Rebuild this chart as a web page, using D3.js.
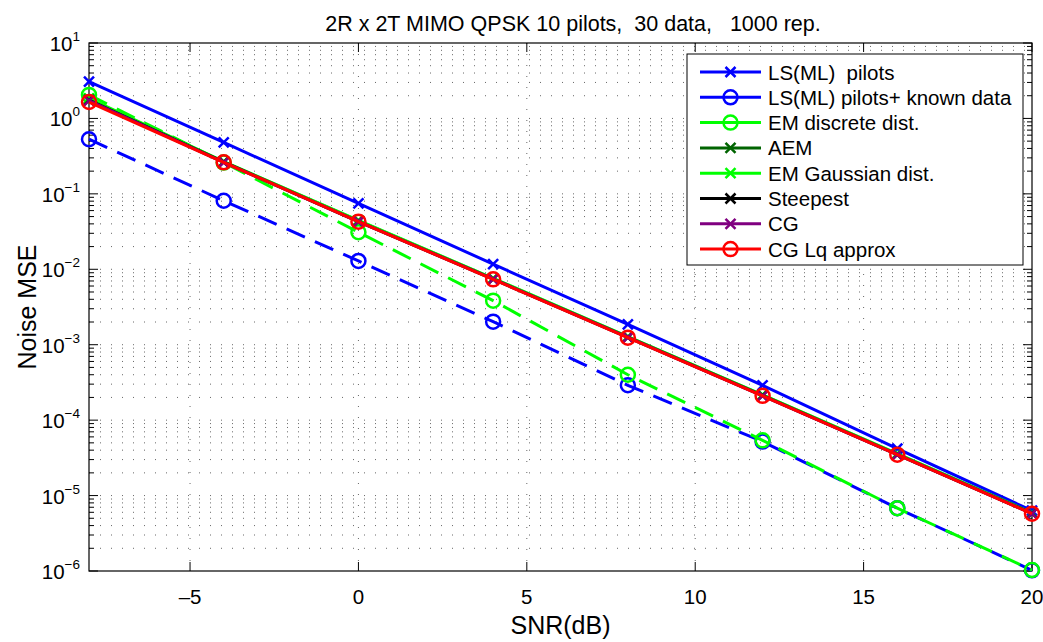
<!DOCTYPE html>
<html>
<head>
<meta charset="utf-8">
<script src="https://cdn.jsdelivr.net/npm/d3@7"></script>
<style>
  body { margin: 0; background: #fff; }
  text { font-family: "Liberation Sans", Arial, sans-serif; fill: #000; }
</style>
</head>
<body>
<svg id="chart" width="1043" height="642"></svg>
<script>
// SNR points
var snr = [-8, -4, 0, 4, 8, 12, 16, 20];

// noise MSE per method
var lsPilots   = [3.07, 0.48, 0.075, 0.0117, 0.00186, 2.9e-4, 4.2e-5, 6.3e-6];
var lsKnown    = [0.53, 0.081, 0.0129, 0.00202, 2.9e-4, 5.2e-5, 6.8e-6, 1.02e-6];
var emDiscrete = [2.05, 0.26, 0.031, 0.00384, 4.0e-4, 5.4e-5, 6.8e-6, 1.03e-6];
var aem        = [1.8, 0.265, 0.044, 0.0075, 0.00127, 2.15e-4, 3.55e-5, 5.85e-6];
var emGauss    = [1.85, 0.268, 0.0445, 0.0076, 0.00128, 2.17e-4, 3.6e-5, 5.9e-6];
var steepest   = [1.75, 0.263, 0.043, 0.0074, 0.00125, 2.12e-4, 3.5e-5, 5.8e-6];
var cg         = [1.72, 0.262, 0.043, 0.0074, 0.00125, 2.1e-4, 3.5e-5, 5.78e-6];
var cgLq       = [1.65, 0.262, 0.0428, 0.00736, 0.00124, 2.1e-4, 3.48e-5, 5.75e-6];

var xTicks = [-5, 0, 5, 10, 15, 20];
var yExps = [-6, -5, -4, -3, -2, -1, 0, 1];

var series = [
  {name: "LS(ML)  pilots", vals: lsPilots, color: "#0000ff", marker: "x", dash: null},
  {name: "LS(ML) pilots+ known data", vals: lsKnown, color: "#0000ff", marker: "o", dash: "20,11"},
  {name: "EM discrete dist.", vals: emDiscrete, color: "#00ff00", marker: "o", dash: "20,11"},
  {name: "AEM", vals: aem, color: "#006400", marker: "x", dash: null},
  {name: "EM Gaussian dist.", vals: emGauss, color: "#00ff00", marker: "x", dash: null},
  {name: "Steepest", vals: steepest, color: "#000000", marker: "x", dash: null},
  {name: "CG", vals: cg, color: "#800080", marker: "x", dash: null},
  {name: "CG Lq approx", vals: cgLq, color: "#ff0000", marker: "o", dash: null}
];

var m = {top: 43, right: 11, bottom: 71, left: 89},
    W = 1043, H = 642,
    pw = W - m.left - m.right,
    ph = H - m.top - m.bottom;

var svg = d3.select("#chart");
var g = svg.append("g").attr("transform", "translate(" + m.left + "," + m.top + ")");

var x = d3.scaleLinear().domain([-8, 20]).range([0, pw]);
var y = d3.scaleLog().domain([1e-6, 10]).range([ph, 0]);

// grid
var minorVals = [];
for (var e = -6; e < 1; e++) {
  for (var k = 2; k <= 9; k++) minorVals.push(k * Math.pow(10, e));
}
var majorVals = yExps.map(function(p) { return Math.pow(10, p); });

g.selectAll(".hgrid").data(minorVals.concat(majorVals.slice(1, -1))).enter()
  .append("line")
  .attr("x1", 0).attr("x2", pw)
  .attr("y1", function(d) { return y(d); }).attr("y2", function(d) { return y(d); })
  .attr("stroke", "#000").attr("stroke-opacity", 0.6)
  .attr("stroke-width", 1).attr("stroke-dasharray", "1,10");

g.selectAll(".vgrid").data(xTicks.slice(0, -1)).enter()
  .append("line")
  .attr("x1", function(d) { return x(d); }).attr("x2", function(d) { return x(d); })
  .attr("y1", 0).attr("y2", ph)
  .attr("stroke", "#000").attr("stroke-opacity", 0.6)
  .attr("stroke-width", 1).attr("stroke-dasharray", "1,10");

// ticks on all four sides
var tickG = g.append("g").attr("stroke", "#000").attr("stroke-width", 1);
xTicks.forEach(function(t) {
  tickG.append("line").attr("x1", x(t)).attr("x2", x(t)).attr("y1", ph).attr("y2", ph - 9);
  tickG.append("line").attr("x1", x(t)).attr("x2", x(t)).attr("y1", 0).attr("y2", 9);
});
majorVals.forEach(function(v) {
  tickG.append("line").attr("x1", 0).attr("x2", 9).attr("y1", y(v)).attr("y2", y(v));
  tickG.append("line").attr("x1", pw).attr("x2", pw - 9).attr("y1", y(v)).attr("y2", y(v));
});
minorVals.forEach(function(v) {
  tickG.append("line").attr("x1", 0).attr("x2", 5).attr("y1", y(v)).attr("y2", y(v));
  tickG.append("line").attr("x1", pw).attr("x2", pw - 5).attr("y1", y(v)).attr("y2", y(v));
});

// frame
g.append("rect").attr("width", pw).attr("height", ph)
  .attr("fill", "none").attr("stroke", "#000").attr("stroke-width", 1.2);

// tick labels
g.selectAll(".xl").data(xTicks).enter().append("text")
  .attr("x", function(d) { return x(d); })
  .attr("y", ph + 33)
  .attr("text-anchor", "middle")
  .attr("font-size", "20.5px")
  .text(function(d) { return d < 0 ? "\u2013" + (-d) : d; });

yExps.forEach(function(p) {
  var t = g.append("text")
    .attr("x", -9).attr("y", y(Math.pow(10, p)) + 8)
    .attr("text-anchor", "end")
    .attr("font-size", "20.5px");
  t.append("tspan").text("10");
  t.append("tspan").attr("dy", -10).attr("font-size", "13.5px")
    .text(p < 0 ? "\u2212" + (-p) : p);
});

// lines
var line = d3.line()
  .x(function(d, i) { return x(snr[i]); })
  .y(function(d) { return y(d); });

function drawMarker(sel, type, color, cx, cy) {
  if (type === "o") {
    sel.append("circle").attr("cx", cx).attr("cy", cy).attr("r", 7)
      .attr("fill", "none").attr("stroke", color).attr("stroke-width", 2.5);
  } else {
    var s = 5;
    sel.append("path")
      .attr("d", "M" + (cx - s) + "," + (cy - s) + "L" + (cx + s) + "," + (cy + s) +
                 "M" + (cx - s) + "," + (cy + s) + "L" + (cx + s) + "," + (cy - s))
      .attr("stroke", color).attr("stroke-width", 2.5).attr("fill", "none");
  }
}

var plotG = g.append("g");
series.forEach(function(s) {
  var sg = plotG.append("g");
  sg.append("path").attr("d", line(s.vals))
    .attr("fill", "none").attr("stroke", s.color).attr("stroke-width", 3)
    .attr("stroke-dasharray", s.dash);
  s.vals.forEach(function(v, i) {
    drawMarker(sg, s.marker, s.color, x(snr[i]), y(v));
  });
});

// legend
var lg = svg.append("g").attr("transform", "translate(687,54)");
lg.append("rect").attr("width", 336).attr("height", 211)
  .attr("fill", "#fff").attr("stroke", "#000").attr("stroke-width", 1);
series.forEach(function(s, i) {
  var ly = 18 + i * 25.3;
  lg.append("line").attr("x1", 13).attr("x2", 74).attr("y1", ly).attr("y2", ly)
    .attr("stroke", s.color).attr("stroke-width", 3);
  drawMarker(lg, s.marker, s.color, 43.5, ly);
  lg.append("text").attr("x", 81).attr("y", ly + 7.5)
    .attr("font-size", "20.5px")
    .style("white-space", "pre")
    .text(s.name);
});

// titles
svg.append("text").attr("x", 573).attr("y", 31)
  .attr("text-anchor", "middle").attr("font-size", "21.5px")
  .style("white-space", "pre")
  .text("2R x 2T MIMO QPSK 10 pilots,  30 data,   1000 rep.");

svg.append("text").attr("x", m.left + pw / 2).attr("y", 634)
  .attr("text-anchor", "middle").attr("font-size", "25px")
  .text("SNR(dB)");

svg.append("text")
  .attr("transform", "translate(36," + (m.top + ph / 2) + ") rotate(-90)")
  .attr("text-anchor", "middle").attr("font-size", "25px")
  .text("Noise MSE");
</script>
</body>
</html>
